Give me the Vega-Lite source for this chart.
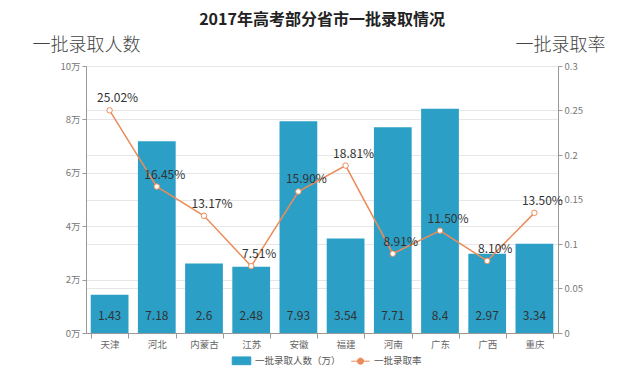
{
  "$schema": "https://vega.github.io/schema/vega-lite/v6.json",
  "width": 472,
  "height": 267,
  "autosize": {"type": "none"},
  "padding": {"left": 86, "top": 66, "right": 74, "bottom": 39},
  "background": "white",
  "title": {"text": "2017年高考部分省市一批录取情况", "fontSize": 16, "fontWeight": "bold", "color": "#222", "font": "Noto Sans CJK SC", "offset": 8},
  "config": {
    "font": "Noto Sans CJK SC",
    "view": {"stroke": null},
    "axis": {"labelColor": "#777", "labelFontSize": 9.5, "domainColor": "#999", "tickColor": "#999", "gridColor": "#e6e6e6", "titleFontWeight": 300, "titleColor": "#444", "titleFontSize": 18}
  },
  "data": {"values": [
    {"province": "天津", "count": 1.43, "rate": 0.2502},
    {"province": "河北", "count": 7.18, "rate": 0.1645},
    {"province": "内蒙古", "count": 2.6, "rate": 0.1317},
    {"province": "江苏", "count": 2.48, "rate": 0.0751},
    {"province": "安徽", "count": 7.93, "rate": 0.159},
    {"province": "福建", "count": 3.54, "rate": 0.1881},
    {"province": "河南", "count": 7.71, "rate": 0.0891},
    {"province": "广东", "count": 8.4, "rate": 0.115},
    {"province": "广西", "count": 2.97, "rate": 0.081},
    {"province": "重庆", "count": 3.34, "rate": 0.135}
  ]},
  "encoding": {
    "x": {"field": "province", "type": "nominal", "sort": null, "scale": {"paddingInner": 0.2, "paddingOuter": 0.1},
      "axis": {"title": null, "labelAngle": 0, "tickBand": "extent", "labelColor": "#666", "labelPadding": 1, "domainColor": "#999"}}
  },
  "layer": [
    {
      "layer": [
        {
          "mark": {"type": "bar"},
          "encoding": {
            "y": {"field": "count", "type": "quantitative", "scale": {"domain": [0, 10]},
              "axis": {"values": [0, 2, 4, 6, 8, 10], "labelExpr": "datum.value + '万'", "title": "一批录取人数", "titleAngle": 0, "titleX": 0, "titleY": -21, "titleAlign": "center", "titleBaseline": "middle", "grid": true, "tickSize": 4}},
            "color": {"datum": "一批录取人数（万）", "type": "nominal",
              "scale": {"domain": ["一批录取人数（万）", "一批录取率"], "range": ["#2b9fc6", "#eb8c5a"]},
              "legend": {"title": null, "orient": "none", "legendX": 147, "legendY": 286, "direction": "horizontal", "labelFontSize": 9.5, "labelColor": "#555", "columnPadding": 8, "labelOffset": 5,
                "encode": {"symbols": {"update": {
                  "shape": {"signal": "datum.value === '一批录取率' ? 'M-1.2,0H-0.4M0.4,0H1.2M0.4,0A0.4,0.4,0,1,1,-0.4,0A0.4,0.4,0,1,1,0.4,0' : 'M-1.2,-0.5H1.2V0.5H-1.2Z'"},
                  "size": {"value": 240},
                  "fill": {"signal": "datum.value === '一批录取率' ? 'white' : '#2b9fc6'"},
                  "stroke": {"signal": "datum.value === '一批录取率' ? '#eb8c5a' : '#2b9fc6'"},
                  "strokeWidth": {"value": 1}
                }}}}}
          }
        },
        {
          "mark": {"type": "text", "color": "#333", "fontSize": 12, "dy": -17, "baseline": "middle"},
          "encoding": {
            "y": {"datum": 0, "type": "quantitative"},
            "text": {"field": "count", "type": "quantitative"}
          }
        }
      ]
    },
    {
      "layer": [
        {
          "mark": {"type": "line", "strokeWidth": 1.5, "point": {"filled": true, "fill": "white", "stroke": "#eb8c5a", "size": 30, "strokeWidth": 1}},
          "encoding": {
            "y": {"field": "rate", "type": "quantitative", "scale": {"domain": [0, 0.3]},
              "axis": {"orient": "right", "values": [0, 0.05, 0.1, 0.15, 0.2, 0.25, 0.3], "format": ".2~f", "title": "一批录取率", "titleAngle": 0, "titleX": 2, "titleY": -21, "titleAlign": "center", "titleBaseline": "middle", "grid": true, "tickSize": 4}},
            "color": {"datum": "一批录取率", "type": "nominal"}
          }
        },
        {
          "mark": {"type": "text", "color": "#333", "fontSize": 12, "dy": -12, "dx": 8, "baseline": "middle"},
          "encoding": {
            "y": {"field": "rate", "type": "quantitative", "scale": {"domain": [0, 0.3]}},
            "text": {"field": "rate", "type": "quantitative", "format": ".2%"}
          }
        }
      ]
    }
  ],
  "resolve": {"scale": {"y": "independent"}}
}
